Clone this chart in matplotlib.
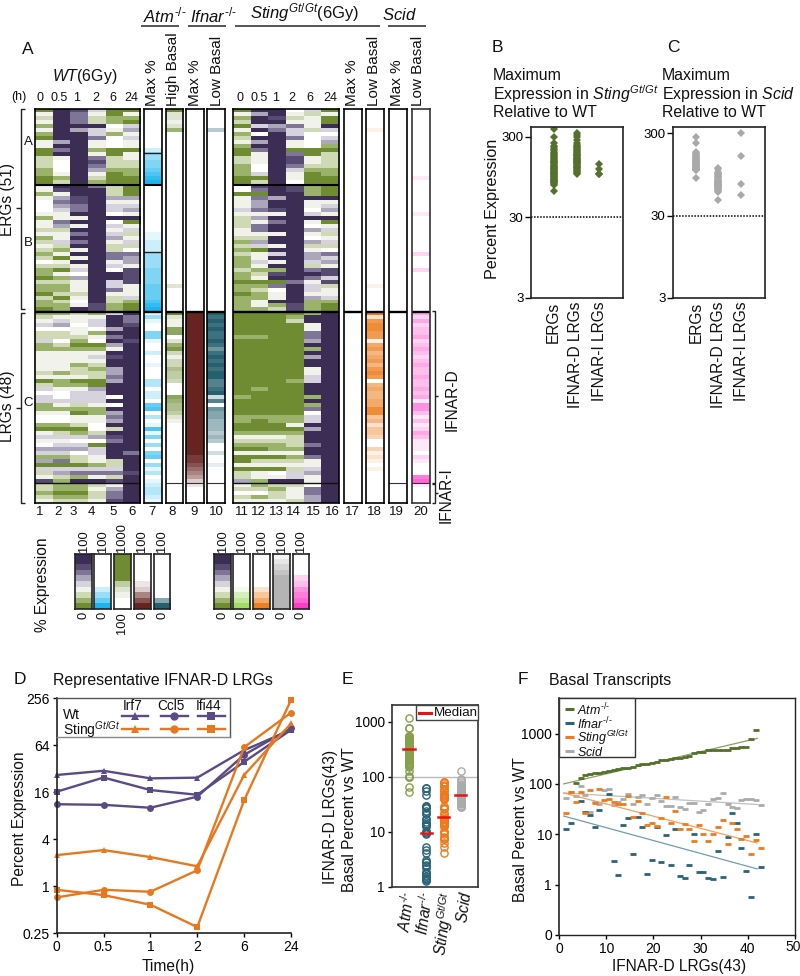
import numpy as np
import matplotlib
matplotlib.use("Agg")
import matplotlib.pyplot as plt
from matplotlib.colors import ListedColormap, LinearSegmentedColormap
from matplotlib.patches import Rectangle

plt.rcParams['font.family'] = ['Liberation Sans', 'DejaVu Sans']
plt.rcParams['mathtext.fontset'] = 'custom'
plt.rcParams['mathtext.rm'] = 'Liberation Sans'
plt.rcParams['mathtext.it'] = 'Liberation Sans:italic'
plt.rcParams['mathtext.bf'] = 'Liberation Sans:bold'

# ---------- heat-map data: one digit (0-9) per gene row -------------
WT_COLS = [
 "0323131033002221100"+"33134443133231232124211021102110"+"12354225"+"11333332"+"30254551"+"13441035"+"34651605"+"238"+"22123",
 "9999999969793444312"+"98367653376233521303203121120211"+"13564224"+"21333331"+"31134453"+"13441025"+"35651705"+"621"+"11012",
 "8777969999999999999"+"99988779393979793939354633323439"+"23343321"+"01333122"+"30135552"+"10332015"+"45642205"+"719"+"11012",
 "5322955733137876321"+"79999999999999999999999999999988"+"13554134"+"01353212"+"20065553"+"11334426"+"40553315"+"739"+"23223",
 "0011431444002221000"+"22263554945356322773549955732211"+"59996979"+"63989966"+"76999494"+"96769298"+"79999225"+"728"+"36778",
 "0310563533033221100"+"00063563903523524766388883335100"+"97789998"+"99999999"+"99999999"+"99999999"+"99979999"+"899"+"99999",
]
STING_COLS = [
 "0312031231002211100"+"44033353222332121211121101101111"+"00000010"+"00000000"+"00000100"+"00110013"+"21030030"+"226"+"32423",
 "9699594969733344502"+"87076673637732650335312301211331"+"00000010"+"00000000"+"00010000"+"00100013"+"21030230"+"331"+"12413",
 "9989679999999999999"+"99969983979939939593918907433912"+"00000000"+"00000000"+"00000000"+"00110013"+"21130230"+"439"+"21223",
 "4323755733078875334"+"88999999999999999999999979999988"+"01200000"+"00000000"+"01000000"+"00113012"+"22131232"+"559"+"23332",
 "5233324444003321000"+"11193345934634623665279735536111"+"19933776"+"91969933"+"55999191"+"74559699"+"97997335"+"633"+"47766",
 "0300954561022221100"+"00093563903523524756388582335100"+"99999999"+"99999999"+"99999999"+"99999999"+"99999999"+"999"+"99999",
]
COL7 = "0000000000244556789"+"00000000000011222444455556666789"+"14100551"+"00200100"+"03302206"+"70301715"+"04056041"+"301"+"23321"
COL8 = "9221260000000000000"+"00000000000000000000000002000000"+"92117702"+"68313354"+"43000765"+"54210000"+"00000000"+"000"+"00000"
COL9 = "0000000000000000000"+"00000000000000000000000000000000"+"99999999"+"99999999"+"99999999"+"99999999"+"99998876"+"542"+"10000"
COL10= "0000030000000000000"+"00000000000000000000000000000000"+"98989889"+"86898989"+"97789270"+"65544434"+"30020010"+"000"+"00000"
COL17= "0000000000000000000"+"00000000000000000000000000000000"+"00000000"+"00000000"+"00000000"+"00000000"+"00000000"+"000"+"00000"
COL18= "0000010000000000000"+"00000000000000000000000001000000"+"92788771"+"67567578"+"70565566"+"88452443"+"00312101"+"000"+"00000"
COL19= "0000000000000000000"+"00000000000000000000000000000000"+"00000000"+"00000000"+"00000000"+"00000000"+"00000000"+"000"+"00000"
COL20= "0000000000000000010"+"00000001000000000200020000000000"+"42423342"+"34323433"+"43343415"+"53131243"+"11102100"+"067"+"10000"

PURPLE_GREEN = ["#6f8c32","#9bb26b","#cfd9b6","#f1f3ea","#ffffff","#d6d3de","#aca6bb","#7f7596","#584b72","#3c2d55"]
C_BLUE, C_OLIVE, C_MAROON, C_TEAL = "#1cb4ee", "#6f8c32", "#66231f", "#25606f"
C_ORANGE, C_MAGENTA, C_LGREEN, C_GREY = "#ee7f1f", "#ff3cc8", "#a0dc66", "#b4b4b4"

# colour-key bands, top to bottom
LEG_PURPLE = "9987653210"
LEG_BLUE   = "0000002469"
LEG_GREEN  = "9999942100"
LEG_MAROON = "0000012579"
LEG_TEAL   = "0000000059"
LEG_LGREEN = "0000001469"
LEG_ORANGE = "0000002469"
LEG_GREY   = "1357999999"
LEG_PINK   = "0000235679"

# ---------- panels B and C ----------
B_CATS = ["ERGs", "IFNAR-D LRGs", "IFNAR-I LRGs"]
B_ERG = [375,300,250,232,222,212,204,196,190,184,178,172,168,165,160,156,152,148,144,140,137,134,131,128,126,124,121,118,116,113,111,109,107,105,103,101,99,97,95,93,91,90,88,86,85,83,82,80,78,76,63]
B_LRGD = [337,320,300,270,250,240,232,225,218,212,206,200,195,190,185,180,176,172,168,165,161,158,155,152,149,146,143,140,137,134,131,128,125,122,119,116,113,110,107,104]
B_LRGI = [137,121,105,104]
C_ERG = [268,226,179,172,168,164,160,157,154,151,148,145,142,140,138,136,134,132,130,128,126,124,122,120,118,116,114,112,110,108,107,87]
C_LRGD = [112,110,102,100,97,95,92,90,88,86,84,82,80,78,77,76,75,74,73,72,71,70,69,68,67,66,65,64,63,62,60,58,46]
C_LRGI = [300,157,73,54]

# ---------- panel D ----------
D_TIMES = ["0","0.5","1","2","6","24"]
WT_IRF7  = [26.5,30,24,24.5,55,100]
WT_CCL5  = [11.2,11,10.1,14,48,105]
WT_IFI44 = [16.2,24.6,17,14.8,39,100]
ST_IRF7  = [2.5,2.9,2.36,1.8,26.5,121]
ST_CCL5  = [0.72,0.90,0.85,1.6,60,166]
ST_IFI44 = [0.90,0.77,0.58,0.30,12.6,241]

# ---------- panel F (re-used in E) ----------
ATM_X = [3.6,4.6,5.6,6.6,7.6,8.5,9.6,10.6,11.6,12.6,13.6,14.6,15.6,16.7,17.6,18.6,19.6,20.7,21.7,22.6,23.7,24.6,25.6,26.6,27.6,28.6,29.6,30.6,31.6,32.7,33.6,34.7,35.7,36.7,37.7,38.6,39.7,40.7,41.7]
ATM_Y = [104,128,150,155,165,168,170,178,185,195,205,210,220,240,245,248,260,270,295,300,310,320,330,340,360,410,420,435,465,470,470,465,480,510,515,535,550,770,1150]
IFN_X = [1.5,2.5,4.7,5.6,6.6,7.6,8.5,10.5,11.6,12.6,13.6,14.6,15.6,16.7,17.6,18.6,19.6,20.7,21.7,22.6,23.7,24.6,25.6,26.6,27.6,28.6,29.6,30.6,31.6,32.7,33.6,34.7,35.7,36.7,37.7,38.6,39.7,40.7,41.7,42.7]
IFN_Y = [12.6,16.8,46,28,24,14,30,62,2.9,1.56,15,21,4.1,22,14,1.6,3.1,14,2.8,9.7,2.4,13,1.48,1.38,2.5,10,1.8,1.8,1.34,1.3,4.7,1.43,9,27,17,5.3,1.9,0.57,10.3,2.2]
STG_X = [1.5,2.5,3.6,4.6,5.6,6.6,7.6,8.5,9.6,10.6,11.6,12.6,13.6,14.6,15.6,16.7,17.6,18.6,19.6,20.7,21.7,22.6,23.7,24.6,25.6,26.6,27.6,28.6,29.6,30.6,31.6,32.7,33.6,34.7,35.7,36.7,37.7,38.6,39.7,40.7,41.7,42.7]
STG_Y = [27,69,44,68,27,76,42,79,48,49,43,40,40,58,22,46,26,15.3,17,14.4,21,55,16.8,29,12.6,15.8,13,7.3,15,10.3,7.3,10,14,19,6.3,17,12.6,8.2,9.1,4.1,7.7,5.3]
SCD_X = STG_X
SCD_Y = [53,70,58,89,61,28,43,39,74,79,38,44,51,64,39,55,60,40,52,61,46,36,37,55,34,32,42,42,28,30,40,51,53,66,40,35,33,48,49,49,47,38]
TREND_X = [1, 42]
ATM_TREND = [100, 800]
IFN_TREND = [23, 2.05]
STG_TREND = [66, 6.7]
SCD_TREND = [66, 39]

# ---------- panel E extras and medians ----------
E_CATS = ["$\\mathit{Atm}^{\\text{-/-}}$", "$\\mathit{Ifnar}^{\\text{-/-}}$", "$\\mathit{Sting}^{\\mathit{Gt/Gt}}$", "$\\mathit{Scid}$"]
E_ATM_EXTRA = [100,98,66,53,780,560,520,450,380]
E_IFN_EXTRA = [62,55,30]
E_STG_EXTRA = [80,72,60]
E_SCD_EXTRA = [125,90,30]
E_MEDIANS = [314, 9.7, 18.8, 46]

C_DGREEN, C_FTEAL, C_FORANGE, C_FGREY = "#55702c", "#2a6478", "#ee7a1c", "#ababab"
C_EGREEN = "#86a04e"

W, H = 800, 976
fig = plt.figure(figsize=(W/100, H/100), dpi=100)

def pax(x0, y0, x1, y1, **kw):
    return fig.add_axes([x0/W, 1-y1/H, (x1-x0)/W, (y1-y0)/H], **kw)

def T(x, y, s, size=11, ha='center', va='center', rot=0, **kw):
    return fig.text(x/W, 1-y/H, s, fontsize=size, ha=ha, va=va, rotation=rot, color=kw.pop('color', '#111111'), zorder=10, **kw)

def digits(s):
    return np.array([int(c) for c in s], dtype=float)

def white_to(c):
    return LinearSegmentedColormap.from_list("w", ["#ffffff", c])

PG = ListedColormap(PURPLE_GREEN)

def cell_panel(x0, x1, y0, y1, data, cmap, edge='k', lines=()):
    ax = pax(x0, y0, x1, y1)
    ax.imshow(data, aspect='auto', cmap=cmap, vmin=0, vmax=9, interpolation='nearest')
    ax.set_xticks([]); ax.set_yticks([])
    for s in ax.spines.values():
        s.set_linewidth(1.2); s.set_color(edge)
    for r, lw, col in lines:
        ax.axhline(r, color=col, lw=lw)
    return ax

# heat maps
HY0, HY1 = 109, 503
main_lines = [(18.5, 1.5, 'k'), (50.5, 1.7, 'k'), (93.5, 1.0, '#111111')]
cell_panel(35, 140.5, HY0, HY1, np.array([digits(c) for c in WT_COLS]).T, PG, lines=main_lines)
cell_panel(233, 339, HY0, HY1, np.array([digits(c) for c in STING_COLS]).T, PG, lines=main_lines)
L50 = (50.5, 1.7, 'k')
singles = [
 (143.5, 161.5, COL7, C_BLUE, [(10.5,1,'#222222'),(18.5,1.5,'k'),(35.5,1,'#222222'),L50], 'k'),
 (165.5, 183, COL8, C_OLIVE, [L50,(93.5,.8,'#333333')], 'k'),
 (186, 204, COL9, C_MAROON, [L50,(93.5,.8,'#333333')], 'k'),
 (207, 225, COL10, C_TEAL, [L50,(93.5,.8,'#333333')], 'k'),
 (343.5, 361.5, COL17, C_BLUE, [L50], 'k'),
 (366, 384, COL18, C_ORANGE, [L50], 'k'),
 (389, 407, COL19, C_BLUE, [L50,(93.5,.8,'#333333')], 'k'),
 (412, 430, COL20, C_MAGENTA, [L50,(93.5,.8,'#333333')], '#333333'),
]
for x0, x1, s, c, ln, e in singles:
    cell_panel(x0, x1, HY0, HY1, digits(s)[:, None], white_to(c), edge=e, lines=ln)

# colour keys
keys = [(75.3,92,LEG_PURPLE,None,'100','0'),(94.3,111,LEG_BLUE,C_BLUE,'100','0'),
        (114,130.7,LEG_GREEN,C_OLIVE,'1000','100'),(134,150.7,LEG_MAROON,C_MAROON,'100','0'),
        (153.7,170.3,LEG_TEAL,C_TEAL,'100','0'),(214.3,231,LEG_PURPLE,None,'100','0'),
        (233.3,250,LEG_LGREEN,C_LGREEN,'100','0'),(253.3,270,LEG_ORANGE,C_ORANGE,'100','0'),
        (273.3,290,LEG_GREY,C_GREY,'100','0'),(292.7,309.3,LEG_PINK,C_MAGENTA,'100','0')]
for x0,x1,s,c,top,bot in keys:
    cm = PG if c is None else white_to(c)
    cell_panel(x0,x1,554,609.3,digits(s)[:,None],cm, edge='#222222')
    T((x0+x1)/2, 552, top, size=9.3, rot=90, va='bottom')
    T((x0+x1)/2, 612, bot, size=9.3, rot=90, va='top')
T(42, 585, "% Expression", size=11.2, rot=90)

# overlay for brackets and header rules
ov = fig.add_axes([0,0,1,1], zorder=5)
ov.set_xlim(0,W); ov.set_ylim(H,0); ov.axis('off'); ov.patch.set_alpha(0)
def rule(xs, ys, c='#222222', lw=1.0):
    ov.plot(xs, ys, color=c, lw=lw, solid_capstyle='butt')
for a,b in [(141,179),(188,226),(235,380),(388,426)]:
    rule([a,b],[25.7,25.7],'#555555',1.4)
rule([25,20.5,20.5,25],[109,109,309,309]); rule([20.5,16],[208,208])
rule([25,20.5,20.5,25],[313,313,503,503]); rule([20.5,16],[408,408])
rule([432,435,435,432],[311,311,483,483]); rule([435,437.5],[396,396])
rule([432,435,435,432],[484,484,503,503]); rule([435,437.5],[493,493])

# headers and labels of panel A
T(28,49,"A",size=12.5)
T(165,15,"$\\mathit{Atm}^{\\text{-/-}}$",size=12)
T(213,15,"$\\mathit{Ifnar}^{\\text{-/-}}$",size=12)
T(305,13,"$\\mathit{Sting}^{\\mathit{Gt/Gt}}$(6Gy)",size=12)
T(399,15,"$\\mathit{Scid}$",size=12)
T(85,77,"$\\mathit{WT}$(6Gy)",size=11.4)
T(19,97,"(h)",size=9)
for x,s in zip([40,59,77,96,113,131],D_TIMES): T(x,98,s,size=9)
for x,s in zip([240,259,276,292,310,330],D_TIMES): T(x,98,s,size=9)
for x,s in [(152,"Max %"),(173,"High Basal"),(195,"Max %"),(216.7,"Low Basal"),(352,"Max %"),(374,"Low Basal"),(397,"Max %"),(418,"Low Basal")]:
    T(x,106,s,size=11,rot=90,va='bottom')
for x,s in zip([40,58,73,91,113,132,152,172,194,216,241.7,258,276,293,313,332,352,374,396,421],range(1,21)):
    T(x,512,str(s),size=9.5)
T(28,142,"A",size=9.5); T(28,243,"B",size=9.5); T(28,403,"C",size=9.5)
T(8,200,"ERGs (51)",size=11.2,rot=90); T(8,406,"LRGs (48)",size=11.2,rot=90)
T(452,400,"IFNAR-D",size=11.2,rot=90); T(446,495,"IFNAR-I",size=11.2,rot=90)

# panels B, C
def dot_panel(box, ylim, xlim, groups, color, ypos_ticks, dotted):
    ax = pax(*box)
    ax.set_yscale('log'); ax.set_ylim(*ylim); ax.set_xlim(*xlim)
    for i,g in enumerate(groups):
        ax.plot([i]*len(g), g, ls='none', marker='D', ms=3.8, color=color, mew=0)
    ax.axhline(dotted, color='k', lw=1.1, ls=(0,(1,1)))
    ax.set_xticks([])
    ax.set_yticks(ypos_ticks); ax.set_yticklabels([str(v) for v in ypos_ticks], fontsize=9.5)
    ax.minorticks_off()
    ax.tick_params(axis='y', length=4, width=1, pad=1.5)
    for s in ax.spines.values(): s.set_linewidth(1.2); s.set_color('#222222')
    return ax
dot_panel((531.3,126.7,622.7,298),(3,400),(-0.98,3.02),[B_ERG,B_LRGD,B_LRGI],C_DGREEN,[3,30,300],30)
dot_panel((673.3,127.3,765,298),(3,354),(-1,3.07),[C_ERG,C_LRGD,C_LRGI],"#a9a9a9",[3,30,300],30)
T(497,48,"B",size=12.5); T(673,48,"C",size=12.5)
for x,s in [(492.7,"Maximum"),(661.7,"Maximum")]: T(x,75,s,size=11.4,ha='left')
T(492.7,94,"Expression in $\\mathit{Sting}^{\\mathit{Gt/Gt}}$",size=11.4,ha='left')
T(661.7,94,"Expression in $\\mathit{Scid}$",size=11.4,ha='left')
for x in (492.7,661.7): T(x,112.7,"Relative to WT",size=11.4,ha='left')
T(492.7,209,"Percent Expression",size=11.6,rot=90)
for x,s in zip([553.7,576,599.3],B_CATS): T(x,302,s,size=11.2,rot=90,va='top')
for x,s in zip([696,718.3,741],B_CATS): T(x,302,s,size=11.2,rot=90,va='top')

# panel D
axd = pax(56.7,698,291,933.3)
axd.set_yscale('log',base=2); axd.set_ylim(0.25,256); axd.set_xlim(0,5)
PUR, ORG = "#5a4b86", "#e87820"
for vals,c,m in [(WT_IRF7,PUR,'^'),(WT_CCL5,PUR,'o'),(WT_IFI44,PUR,'s'),(ST_IRF7,ORG,'^'),(ST_CCL5,ORG,'o'),(ST_IFI44,ORG,'s')]:
    axd.plot(range(6),vals,color=c,marker=m,ms=5,lw=1.7,mew=0,clip_on=False)
axd.set_xticks(range(6)); axd.set_xticklabels(D_TIMES,fontsize=10)
axd.set_yticks([0.25,1,4,16,64,256]); axd.set_yticklabels(['0.25','1','4','16','64','256'],fontsize=10)
axd.minorticks_off()
axd.tick_params(length=3,width=1,pad=2)
axd.spines['right'].set_visible(False); axd.spines['top'].set_visible(False)
for s in ('left','bottom'): axd.spines[s].set_linewidth(1.2); axd.spines[s].set_color('#222222')
ov.plot([56.7,230,230],[698,698,737.3],color='#555555',lw=1)
ov.plot([56.7,230],[737.3,737.3],color='#888888',lw=1)
for x0,x1,m in [(121.7,148.3,'^'),(161,187.7,'o'),(197.7,225,'s')]:
    ov.plot([x0,x1],[716,716],color=PUR,lw=1.7); ov.plot([(x0+x1)/2],[716],marker=m,color=PUR,ms=6,mew=0)
    ov.plot([x0,x1],[729,729],color=ORG,lw=1.7); ov.plot([(x0+x1)/2],[729],marker=m,color=ORG,ms=6,mew=0)
for x,s in zip([132.7,171,209],["Irf7","Ccl5","Ifi44"]): T(x,705.5,s,size=9.8)
T(63,715,"Wt",size=10,ha='left'); T(63,730,"Sting$^{\\mathit{Gt/Gt}}$",size=10,ha='left')
T(20,679,"D",size=12.5); T(53.3,681,"Representative IFNAR-D LRGs",size=11.4,ha='left')
T(20,819,"Percent Expression",size=11.2,rot=90); T(168,967,"Time(h)",size=11.2)

# panel E
axe = pax(391.7,705,477.7,887)
axe.set_yscale('log'); axe.set_ylim(1,2010); axe.set_xlim(-1,3.97)
axe.axhline(100,color='#bbbbbb',lw=1)
e_groups = [(ATM_Y+E_ATM_EXTRA,C_EGREEN),(IFN_Y+E_IFN_EXTRA,C_FTEAL),(STG_Y+E_STG_EXTRA,C_FORANGE),(SCD_Y+E_SCD_EXTRA,C_FGREY)]
for i,(g,c) in enumerate(e_groups):
    axe.plot([i]*len(g),g,ls='none',marker='o',ms=5.2,mfc='none',mec=c,mew=1)
    axe.plot([i-.32,i+.32],[E_MEDIANS[i]]*2,color='#ee1111',lw=1.8,zorder=5)
axe.set_xticks([])
axe.set_yticks([1,10,100,1000]); axe.set_yticklabels(['1','10','100','1000'],fontsize=9.8)
axe.minorticks_off(); axe.tick_params(axis='y',length=3,width=1,pad=2)
for s in axe.spines.values(): s.set_linewidth(1.2); s.set_color('#333333')
ov.add_patch(Rectangle((416,705),61.7,15,fc='white',ec='#444444',lw=1))
ov.plot([419,431],[712.5,712.5],color='#ee1111',lw=2.2)
T(434,713,"Median",size=9.6,ha='left')
for x,s in zip([406.7,425,445,464],E_CATS): T(x,890,s,size=11.2,rot=82,va='top')
T(347,679,"E",size=12.5)
T(330,817,"IFNAR-D LRGs(43)",size=11.2,rot=90); T(349,820,"Basal Percent vs WT",size=11.2,rot=90)

# panel F
axf = pax(559,698.3,795,935)
axf.set_yscale('log'); axf.set_ylim(0.1,5000); axf.set_xlim(0,50)
series = [(ATM_X,ATM_Y,ATM_TREND,C_DGREEN,"#8aa063"),(IFN_X,IFN_Y,IFN_TREND,C_FTEAL,"#6f9fb0"),(STG_X,STG_Y,STG_TREND,C_FORANGE,"#f0a060"),(SCD_X,SCD_Y,SCD_TREND,C_FGREY,"#bfbfbf")]
for i in (3,1,2,0):
    x,y,tr,c,tc = series[i]
    axf.plot(TREND_X,tr,color=tc,lw=0.9)
    axf.plot(x,y,ls='none',marker='_',ms=5,mew=2,color=c)
axf.set_xticks([0,10,20,30,40,50]); axf.set_xticklabels(['0','10','20','30','40',''],fontsize=10)
T(793,947,"50",size=10)
axf.set_yticks([0.1,1,10,100,1000]); axf.set_yticklabels(['0','1','10','100','1000'],fontsize=10)
axf.minorticks_off(); axf.tick_params(length=3,width=1,pad=2)
for s in axf.spines.values(): s.set_linewidth(1); s.set_color('#222222')
axf.spines['left'].set_linewidth(1.2)
ov.add_patch(Rectangle((559,698.3),76.3,59,fc='white',ec='#333333',lw=1))
for yy,c,s in [(709,C_DGREEN,"$\\mathit{Atm}^{\\text{-/-}}$"),(723,C_FTEAL,"$\\mathit{Ifnar}^{\\text{-/-}}$"),(737,C_FORANGE,"$\\mathit{Sting}^{\\mathit{Gt/Gt}}$"),(751,C_FGREY,"$\\mathit{Scid}$")]:
    ov.plot([565,574],[yy,yy],color=c,lw=2.2,solid_capstyle='butt')
    T(577,yy+1,s,size=9,ha='left')
T(523,679,"F",size=12.5); T(549,681,"Basal Transcripts",size=11.4,ha='left')
T(520.7,830,"Basal Percent vs WT",size=11.2,rot=90); T(679,967,"IFNAR-D LRGs(43)",size=11.2)

fig.savefig("out.png",dpi=100)
